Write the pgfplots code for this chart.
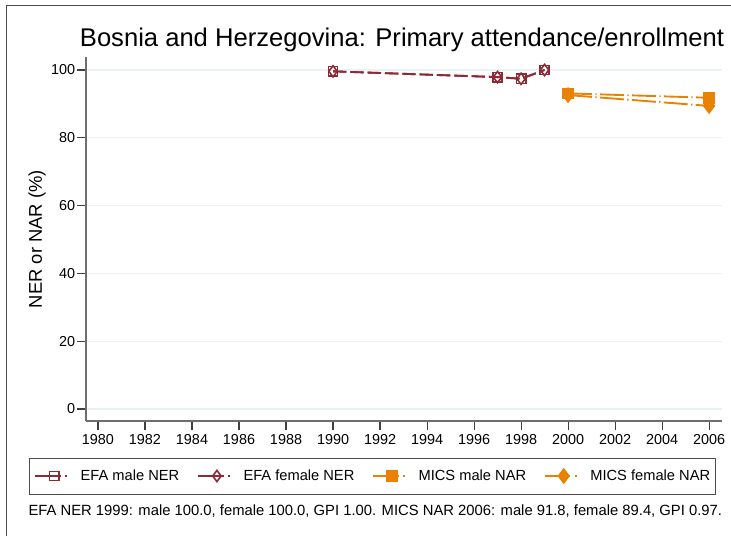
\documentclass[border=0pt]{standalone}
\usepackage{fontspec}
\setmainfont{Liberation Sans}
\usepackage{pgfplots}
\pgfplotsset{compat=1.18}
\definecolor{efared}{RGB}{140,43,53}
\definecolor{micsor}{RGB}{232,130,0}
\definecolor{gridc}{RGB}{234,242,243}
\definecolor{spine}{RGB}{110,110,110}
\begin{document}
\begin{tikzpicture}
\path[use as bounding box] (0,0) rectangle (548.25pt,402pt);
\draw[black!70, line width=0.75pt] (4.5pt,0pt) -- (4.5pt,397.5pt) -- (548.25pt,397.5pt);
\begin{axis}[
  at={(64.5pt,86.25pt)}, anchor=south west,
  scale only axis, width=477pt, height=273pt,
  xmin=1979.49, xmax=2006.55, ymin=-3.54, ymax=103.83,
  axis x line*=bottom, axis y line*=left,
  axis line style={-, spine, line width=1.1pt},
  tick align=outside, major tick length=6.5pt,
  tick style={black!75, line width=0.8pt},
  ymajorgrids, grid style={gridc, line width=1pt},
  xtick={1980,1982,...,2006}, ytick={0,20,...,100},
  ticklabel style={font=\fontsize{10.8}{12}\selectfont},
  yticklabel style={inner xsep=1.5pt},
  /pgf/number format/assume math mode=true,
  /pgf/number format/1000 sep={},
  clip=false,
  legend columns=4,
  legend image code/.code={\draw[mark repeat=2,mark phase=2,#1, dash pattern=on 19pt off 3.5pt on 1.2pt off 10pt] plot coordinates {(0pt,0pt)(14pt,0pt)(25pt,0pt)};},
  legend style={at={(0.4502,-0.1511)}, anchor=center, draw=black!70, line width=0.75pt,
    font=\fontsize{11}{13}\selectfont, inner xsep=4pt, inner ysep=8.5pt,
    nodes={inner sep=0pt},
    /tikz/every odd column/.append style={column sep=8.25pt},
    /tikz/every even column/.append style={column sep=13.5pt}},
]
\addplot[efared, line width=1.4pt, dash pattern=on 10pt off 3pt, mark=square, mark size=3.5pt, mark options={solid, line width=1.2pt}]
  coordinates {(1990,99.6)(1997,97.9)(1998,97.4)(1999,100.0)};
\addlegendentry{EFA male NER}
\addplot[efared, line width=1.4pt, dash pattern=on 10pt off 3pt, mark=diamond, mark size=4.2pt, mark options={solid, line width=1.2pt}]
  coordinates {(1990,99.6)(1997,97.9)(1998,97.4)(1999,100.0)};
\addlegendentry{EFA female NER}
\addplot[micsor, line width=1.4pt, dash pattern=on 18pt off 2.5pt on 1pt off 2.5pt, mark=square*, mark size=3.6pt, mark options={solid}]
  coordinates {(2000,93.1)(2006,91.8)};
\addlegendentry{MICS male NAR}
\addplot[micsor, line width=1.4pt, dash pattern=on 18pt off 2.5pt on 1pt off 2.5pt, mark=diamond*, mark size=5pt, mark options={solid}]
  coordinates {(2000,92.6)(2006,89.4)};
\addlegendentry{MICS female NAR}
\end{axis}
\node[font=\fontsize{19.2}{22}\selectfont, anchor=base] at (301.5pt,366.75pt) {Bosnia and Herzegovina: Primary attendance/enrollment};
\node[font=\fontsize{13.8}{15}\selectfont, rotate=90] at (27.75pt,222.75pt) {NER or NAR (\%)};
\node[font=\fontsize{11.1}{13}\selectfont, anchor=base west, inner sep=0pt] at (21.2pt,15.75pt) {EFA NER 1999: male 100.0, female 100.0, GPI 1.00. MICS NAR 2006: male 91.8, female 89.4, GPI 0.97.};
\end{tikzpicture}
\end{document}
